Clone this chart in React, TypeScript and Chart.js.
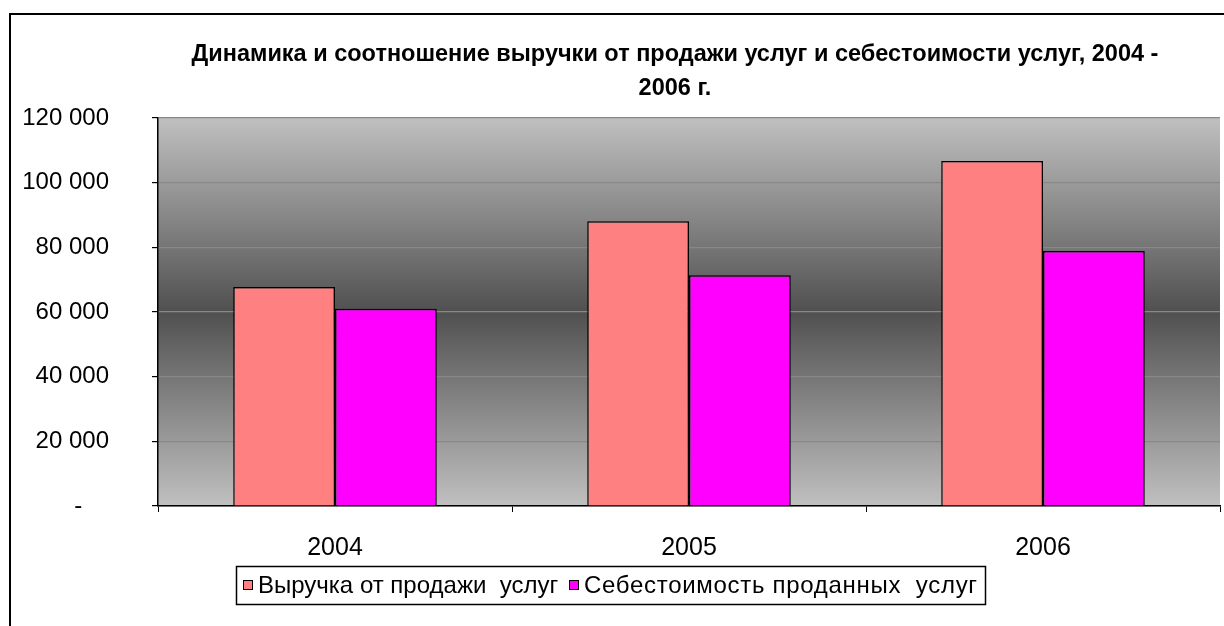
import React, { useEffect, useRef } from 'react';
import { Chart, registerables } from 'chart.js';

Chart.register(...registerables);

const categories = ['2004', '2005', '2006'];
const revenue = [67700, 88100, 106700];
const cost = [61000, 71400, 78900];
const seriesNames = ['Выручка от продажи  услуг', 'Себестоимость проданных  услуг'];
const seriesColors = ['#FF8080', '#FF00FF'];
const titleLines = [
  'Динамика и соотношение выручки от продажи услуг и себестоимости услуг, 2004 -',
  '2006 г.',
];
const yMin = 0;
const yMax = 120000;
const yStep = 20000;

const fmt = (v: number) =>
  v === 0 ? '-    ' : String(v).replace(/\B(?=(\d{3})+(?!\d))/g, ' ');

const W = 1224;
const H = 626;
const FONT = 'Arial, "Liberation Sans", sans-serif';

const bgPlugin = {
  id: 'bgPlugin',
  beforeDraw(chart: any) {
    const { ctx, chartArea } = chart;
    const { left, top, right, bottom } = chartArea;
    ctx.save();
    const g = ctx.createLinearGradient(0, top, 0, bottom);
    g.addColorStop(0, '#c0c0c0');
    g.addColorStop(0.5, '#505050');
    g.addColorStop(1, '#c0c0c0');
    ctx.fillStyle = g;
    ctx.fillRect(left, top, right - left, bottom - top);
    ctx.restore();
  },
  afterDraw(chart: any) {
    const ctx = chart.ctx;
    ctx.save();
    // outer frame
    ctx.strokeStyle = '#000';
    ctx.lineWidth = 2;
    ctx.beginPath();
    ctx.moveTo(10, H);
    ctx.lineTo(10, 14);
    ctx.lineTo(W, 14);
    ctx.stroke();
    // title
    ctx.fillStyle = '#000';
    ctx.font = `bold 23.5px ${FONT}`;
    ctx.textAlign = 'center';
    ctx.textBaseline = 'middle';
    titleLines.forEach((t, i) => ctx.fillText(t, 675, 55 + i * 34));
    // legend box
    ctx.lineWidth = 1.5;
    ctx.strokeStyle = '#000';
    ctx.strokeRect(236.5, 566.5, 749, 38);
    const pos = [
      { mx: 243, tx: 258, ls: 0 },
      { mx: 569, tx: 584, ls: 0.7 },
    ];
    ctx.font = `24px ${FONT}`;
    ctx.textBaseline = 'middle';
    ctx.textAlign = 'left';
    chart.data.datasets.forEach((ds: any, i: number) => {
      const p = pos[i];
      ctx.fillStyle = ds.backgroundColor;
      ctx.fillRect(p.mx, 580, 9, 9);
      ctx.lineWidth = 1;
      ctx.strokeStyle = '#000';
      ctx.strokeRect(p.mx + 0.5, 580.5, 9, 9);
      ctx.fillStyle = '#000';
      (ctx as any).letterSpacing = `${p.ls}px`;
      ctx.fillText(ds.label, p.tx, 586);
    });
    (ctx as any).letterSpacing = '0px';
    ctx.restore();
  },
};

export default function App() {
  const ref = useRef<HTMLCanvasElement>(null);
  useEffect(() => {
    if (!ref.current) return;
    const chart = new Chart(ref.current, {
      type: 'bar',
      data: {
        labels: categories,
        datasets: [
          {
            label: seriesNames[0],
            data: revenue,
            backgroundColor: seriesColors[0],
            borderColor: '#000',
            borderWidth: 1.5,
          },
          {
            label: seriesNames[1],
            data: cost,
            backgroundColor: seriesColors[1],
            borderColor: '#000',
            borderWidth: 1.5,
          },
        ],
      },
      options: {
        responsive: false,
        animation: false,
        devicePixelRatio: 1,
        layout: { padding: { left: 10, right: 4, top: 118, bottom: 70 } },
        datasets: { bar: { categoryPercentage: 0.575, barPercentage: 1 } },
        plugins: {
          legend: { display: false },
          tooltip: { enabled: false },
          title: { display: false },
        },
        scales: {
          x: {
            afterFit: (s: any) => { s.height = 50; },
            grid: { display: true, drawOnChartArea: false, color: '#000', tickColor: '#000', tickLength: 6, offset: true },
            border: { color: '#000', width: 1.5 },
            ticks: {
              color: '#000',
              padding: 21,
              font: { family: FONT, size: 25 },
              maxRotation: 0,
            },
          },
          y: {
            min: yMin,
            max: yMax,
            afterFit: (s: any) => { s.width = 148; },
            grid: { color: '#888888', tickColor: '#000', tickLength: 6, lineWidth: 1.2 },
            border: { color: '#000', width: 1.5 },
            ticks: {
              stepSize: yStep,
              color: '#000',
              padding: 43,
              font: { family: FONT, size: 24 },
              callback: (v: any) => fmt(Number(v)),
            },
          },
        },
      },
      plugins: [bgPlugin],
    });
    return () => chart.destroy();
  }, []);
  return (
    <div style={{ position: 'fixed', left: 0, top: 0, width: W, height: H, background: '#fff' }}>
      <canvas ref={ref} width={W} height={H} style={{ width: W, height: H, display: 'block' }} />
    </div>
  );
}
